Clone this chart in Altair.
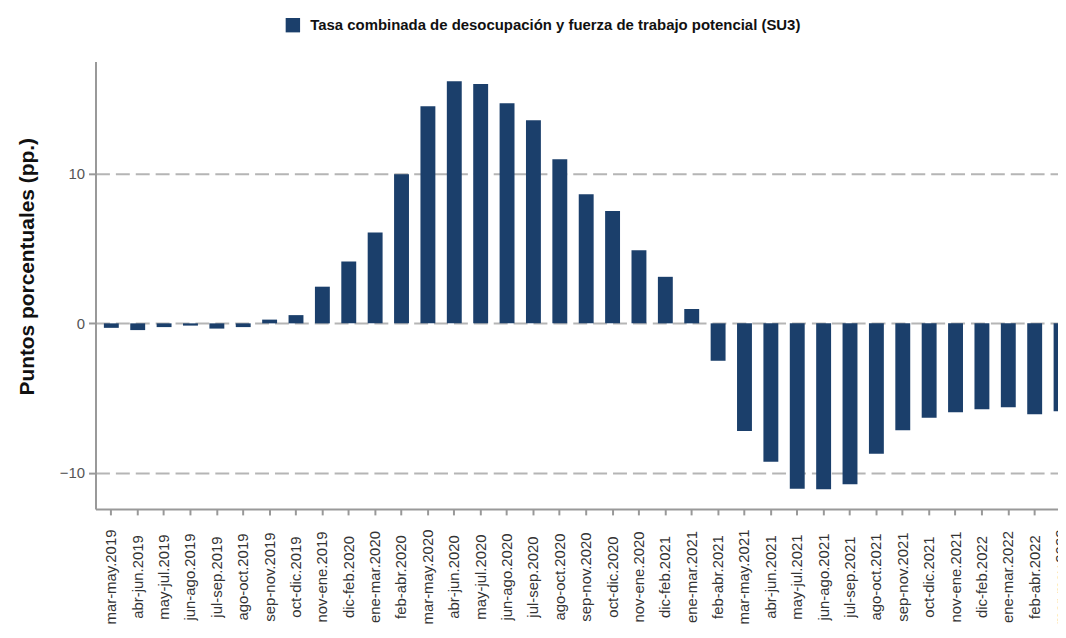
import altair as alt
import pandas as pd

categorias = [
    "mar-may.2019", "abr-jun.2019", "may-jul.2019", "jun-ago.2019", "jul-sep.2019",
    "ago-oct.2019", "sep-nov.2019", "oct-dic.2019", "nov-ene.2019", "dic-feb.2020",
    "ene-mar.2020", "feb-abr.2020", "mar-may.2020", "abr-jun.2020", "may-jul.2020",
    "jun-ago.2020", "jul-sep.2020", "ago-oct.2020", "sep-nov.2020", "oct-dic.2020",
    "nov-ene.2020", "dic-feb.2021", "ene-mar.2021", "feb-abr.2021", "mar-may.2021",
    "abr-jun.2021", "may-jul.2021", "jun-ago.2021", "jul-sep.2021", "ago-oct.2021",
    "sep-nov.2021", "oct-dic.2021", "nov-ene.2021", "dic-feb.2022", "ene-mar.2022",
    "feb-abr.2022", "mar-may.2022",
]
valores = [
    -0.3, -0.45, -0.25, -0.15, -0.35,
    -0.25, 0.25, 0.55, 2.45, 4.13,
    6.07, 9.96, 14.51, 16.18, 16.0,
    14.7, 13.58, 10.96, 8.63, 7.51,
    4.89, 3.11, 0.96, -2.5, -7.2,
    -9.25, -11.06, -11.08, -10.75, -8.72,
    -7.15, -6.3, -5.94, -5.74, -5.61,
    -6.07, -5.87,
]
serie = "Tasa combinada de desocupación y fuerza de trabajo potencial (SU3)"
ticks_y = [-10, 0, 10]

df = pd.DataFrame({"cat": categorias, "val": valores, "serie": [serie] * len(categorias)})

FONT = "Liberation Sans"

chart = alt.Chart(df).mark_bar().encode(
    x=alt.X(
        "cat:N",
        sort=categorias,
        title=None,
        scale=alt.Scale(paddingInner=0.435, paddingOuter=0.3175, range=[0, 987]),
        axis=alt.Axis(
            labelAngle=270,
            labelAlign="center",
            labelBaseline="middle",
            labelPadding=62,
            labelFontSize=15,
            labelColor="#333333",
            labelFont=FONT,
            labelOverlap=False,
            tickColor="#999999",
            tickSize=6,
            tickWidth=2,
            domainColor="#999999",
            domainWidth=2,
            grid=False,
        ),
    ),
    y=alt.Y(
        "val:Q",
        title="Puntos porcentuales (pp.)",
        scale=alt.Scale(domain=[-12.4, 17.5], nice=False, zero=False),
        axis=alt.Axis(
            values=ticks_y,
            labelFontSize=15,
            labelColor="#555555",
            labelFont=FONT,
            labelPadding=4,
            tickColor="#999999",
            tickSize=7,
            tickWidth=2,
            domainColor="#999999",
            domainWidth=2,
            grid=True,
            gridDash=[14, 6],
            gridColor="#b5b5b5",
            gridWidth=2,
            titleFont=FONT,
            titleFontSize=21,
            titleFontWeight="bold",
            titleColor="#111111",
            titleX=-68,
            titleY=206,
            titleAlign="center",
            titleBaseline="middle",
            titleAngle=270,
        ),
    ),
    color=alt.Color(
        "serie:N",
        scale=alt.Scale(range=["#1b3f6b"]),
        legend=alt.Legend(
            title=None,
            orient="none",
            legendX=191,
            legendY=-44,
            direction="horizontal",
            symbolType="square",
            symbolSize=210,
            symbolStrokeWidth=0,
            labelFont=FONT,
            labelFontSize=15,
            labelFontWeight="bold",
            labelColor="#111111",
            labelLimit=800,
            labelOffset=10,
        ),
    ),
).properties(
    width=968,
    height=450,
    background="white",
    autosize=alt.AutoSizeParams(type="none"),
    padding={"left": 88, "top": 52, "right": 0, "bottom": 120},
).configure_view(stroke=None)

chart.save("out.html", embed_options={"renderer": "svg", "actions": False})
